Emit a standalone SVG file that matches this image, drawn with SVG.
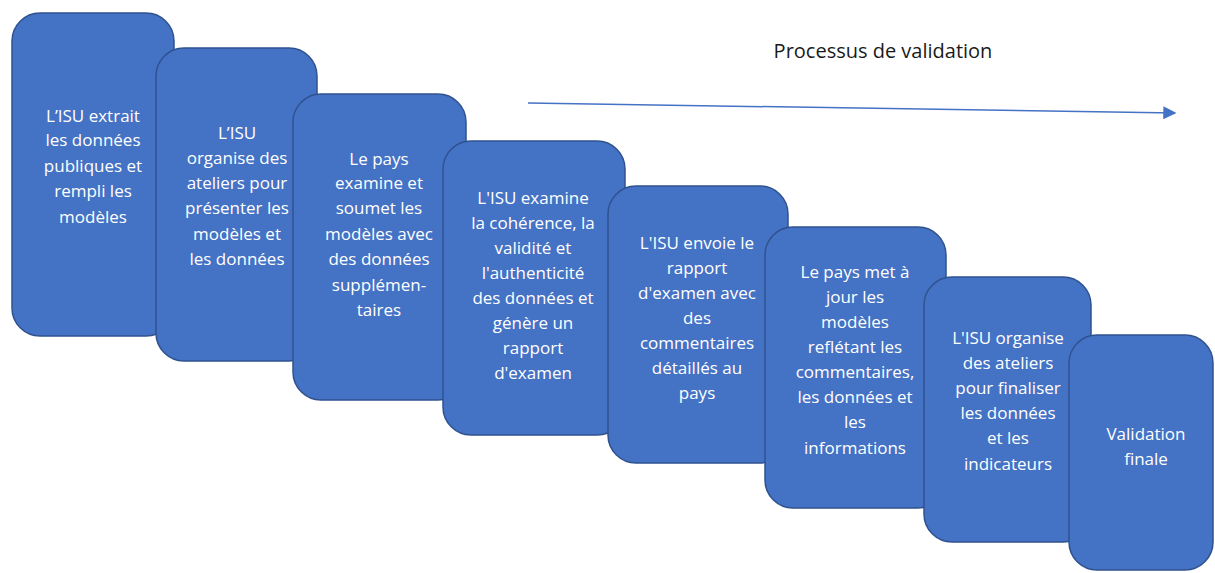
<svg xmlns="http://www.w3.org/2000/svg" width="1215" height="573" viewBox="0 0 1215 573">
<defs>
<style>
.box{fill:#4472C4;stroke:#2F528F;stroke-width:1.5}
.t{font-family:"Open Sans","Liberation Sans",sans-serif;font-size:17px;fill:#ffffff;text-anchor:middle}
.title{font-family:"Open Sans","Liberation Sans",sans-serif;font-size:20px;fill:#1a1a1a;text-anchor:middle}
</style>
<marker id="ah" viewBox="0 0 10 10" refX="9" refY="5" markerWidth="13" markerHeight="13" markerUnits="userSpaceOnUse" orient="auto">
<path d="M0,0 L10,5 L0,10 z" fill="#4472C4"/>
</marker>
</defs>
<rect width="1215" height="573" fill="#ffffff"/>
<text class="title" x="883" y="58">Processus de validation</text>
<g id="connectors">
<line x1="528" y1="103" x2="1175" y2="113" stroke="#4472C4" stroke-width="1.5" marker-end="url(#ah)"/>
</g>
<g id="n1">
<rect class="box" x="12" y="13" width="162" height="323" rx="28"/>
<text class="t" x="93"><tspan x="93" y="122">L’ISU extrait</tspan><tspan x="93" y="146">les données</tspan><tspan x="93" y="172">publiques et</tspan><tspan x="93" y="197">rempli les</tspan><tspan x="93" y="223">modèles</tspan></text>
</g>
<g id="n2">
<rect class="box" x="156" y="48" width="161" height="313" rx="28"/>
<text class="t"><tspan x="237" y="139">L’ISU</tspan><tspan x="237" y="164">organise des</tspan><tspan x="237" y="189">ateliers pour</tspan><tspan x="237" y="214">présenter les</tspan><tspan x="237" y="240">modèles et</tspan><tspan x="237" y="265">les données</tspan></text>
</g>
<g id="n3">
<rect class="box" x="293" y="94" width="173" height="306" rx="28"/>
<text class="t"><tspan x="379" y="165">Le pays</tspan><tspan x="379" y="189">examine et</tspan><tspan x="379" y="214">soumet les</tspan><tspan x="379" y="240">modèles avec</tspan><tspan x="379" y="265">des données</tspan><tspan x="379" y="291">supplémen-</tspan><tspan x="379" y="316">taires</tspan></text>
</g>
<g id="n4">
<rect class="box" x="443" y="141" width="182" height="294" rx="28"/>
<text class="t"><tspan x="533" y="204">L'ISU examine</tspan><tspan x="533" y="229">la cohérence, la</tspan><tspan x="533" y="254">validité et</tspan><tspan x="533" y="279">l'authenticité</tspan><tspan x="533" y="304">des données et</tspan><tspan x="533" y="329">génère un</tspan><tspan x="533" y="354">rapport</tspan><tspan x="533" y="379">d'examen</tspan></text>
</g>
<g id="n5">
<rect class="box" x="608" y="186" width="180" height="277" rx="28"/>
<text class="t"><tspan x="697" y="249">L'ISU envoie le</tspan><tspan x="697" y="274">rapport</tspan><tspan x="697" y="299">d'examen avec</tspan><tspan x="697" y="324">des</tspan><tspan x="697" y="349">commentaires</tspan><tspan x="697" y="374">détaillés au</tspan><tspan x="697" y="399">pays</tspan></text>
</g>
<g id="n6">
<rect class="box" x="765" y="227" width="181" height="281" rx="28"/>
<text class="t"><tspan x="855" y="278">Le pays met à</tspan><tspan x="855" y="303">jour les</tspan><tspan x="855" y="328">modèles</tspan><tspan x="855" y="353">reflétant les</tspan><tspan x="855" y="378">commentaires,</tspan><tspan x="855" y="403">les données et</tspan><tspan x="855" y="428">les</tspan><tspan x="855" y="454">informations</tspan></text>
</g>
<g id="n7">
<rect class="box" x="924" y="277" width="167" height="265" rx="28"/>
<text class="t"><tspan x="1008" y="344">L'ISU organise</tspan><tspan x="1008" y="369">des ateliers</tspan><tspan x="1008" y="394">pour finaliser</tspan><tspan x="1008" y="419">les données</tspan><tspan x="1008" y="444">et les</tspan><tspan x="1008" y="470">indicateurs</tspan></text>
</g>
<g id="n8">
<rect class="box" x="1069" y="335" width="144" height="235" rx="28"/>
<text class="t"><tspan x="1146" y="440">Validation</tspan><tspan x="1146" y="465">finale</tspan></text>
</g>
</svg>
